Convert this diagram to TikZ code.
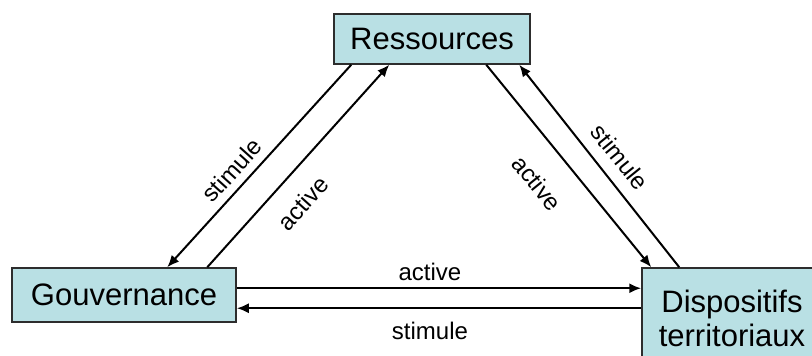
\documentclass[tikz,border=0pt]{standalone}
\usepackage{fontspec}
\setmainfont{Liberation Sans}
\usetikzlibrary{arrows.meta}
\definecolor{boxfill}{RGB}{185,224,228}
\definecolor{boxline}{RGB}{45,45,45}
\begin{document}
\begin{tikzpicture}[x=1pt,y=-1pt,
  box/.style={draw=boxline, line width=1.5pt, fill=boxfill, inner sep=0pt,
    font=\fontsize{31}{34}\selectfont, align=center},
  arr/.style={line width=2pt, -{Latex[length=12pt,width=10pt]}},
  lbl/.style={font=\fontsize{24}{26}\selectfont, inner sep=0pt}]
\useasboundingbox (0,0) rectangle (812,356);
\clip (0,0) rectangle (812,356);
\node[box, minimum width=196pt, minimum height=50pt] (R) at (432,39) {Ressources};
\node[box, minimum width=224pt, minimum height=54pt] (G) at (124,295) {Gouvernance};
\node[box, minimum width=180pt, minimum height=100pt] (D) at (732,318) {Dispositifs\\territoriaux};
% left pair
\draw[arr] ([xshift=18pt]R.south west) -- ([xshift=156pt]G.north west);
\draw[arr] ([xshift=196pt]G.north west) -- ([xshift=56pt]R.south west);
% right pair
\draw[arr] ([xshift=153pt]R.south west) -- ([xshift=10pt]D.north west);
\draw[arr] ([xshift=38pt]D.north west) -- ([xshift=186pt]R.south west);
% bottom pair
\draw[arr] ([yshift=-21pt]G.north east) -- ([yshift=-21pt]D.north west);
\draw[arr] ([yshift=-41pt]D.north west) -- ([yshift=-41pt]G.north east);
% labels
\node[lbl, rotate=48] (l1) at (232,170) {stimule};
\node[lbl, rotate=48] (l2) at (303,203) {active};
\node[lbl, rotate=-51] (l3) at (537,183) {active};
\node[lbl, rotate=-51] (l4) at (620,157) {stimule};
\node[lbl] (l5) at (430,272) {active};
\node[lbl] (l6) at (430,331) {stimule};
\end{tikzpicture}
\end{document}
